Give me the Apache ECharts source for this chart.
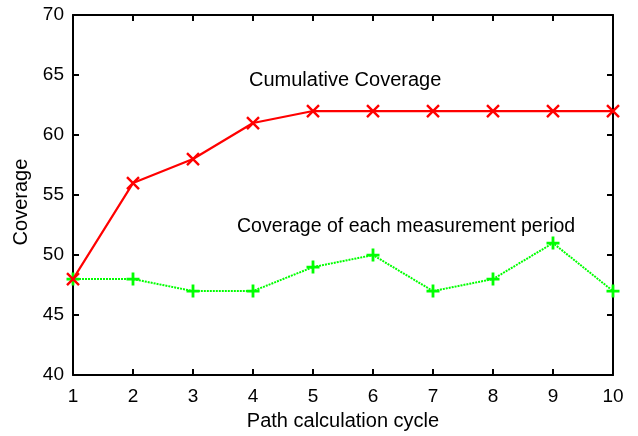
<!DOCTYPE html>
<html><head><meta charset="utf-8">
<script src="https://cdn.jsdelivr.net/npm/echarts@6/dist/echarts.min.js"></script>
<style>html,body{margin:0;padding:0;background:#fff}#c{width:638px;height:436px}</style>
</head><body><div id="c"></div>
<script>
const cycles = [1,2,3,4,5,6,7,8,9,10];
const cumulative = [48,56,58,61,62,62,62,62,62,62];
const perPeriod = [48,48,47,47,49,50,47,48,51,47];
const yTicks = [40,45,50,55,60,65,70];
const labelCum = 'Cumulative Coverage';
const labelPer = 'Coverage of each measurement period';

const chart = echarts.init(document.getElementById('c'), null, {renderer:'canvas'});
const font = 'Liberation Sans, Arial, sans-serif';
const axisCommon = {
  axisLine:{show:true, onZero:false, lineStyle:{color:'#000', width:2}},
  axisTick:{show:true, inside:true, length:6, lineStyle:{color:'#000', width:2}},
  splitLine:{show:false}
};
chart.setOption({
  animation:false,
  grid:{left:73, right:25, top:15, bottom:60},
  xAxis:[
    Object.assign({type:'value', min:1, max:10, interval:1, position:'bottom',
      name:'Path calculation cycle', nameLocation:'middle', nameGap:32,
      nameTextStyle:{fontFamily:font, fontSize:20, color:'#000'},
      axisLabel:{fontFamily:font, fontSize:19, color:'#000', margin:12}}, axisCommon),
    Object.assign({type:'value', min:1, max:10, interval:1, position:'top',
      axisLabel:{show:false}}, axisCommon)
  ],
  yAxis:[
    Object.assign({type:'value', min:40, max:70, interval:5, position:'left',
      name:'Coverage', nameLocation:'middle', nameGap:38, nameRotate:90,
      nameTextStyle:{fontFamily:font, fontSize:20, color:'#000', padding:[0,14,0,0]},
      axisLabel:{fontFamily:font, fontSize:19, color:'#000', margin:9}}, axisCommon),
    Object.assign({type:'value', min:40, max:70, interval:5, position:'right',
      axisLabel:{show:false}}, axisCommon)
  ],
  series:[
    {type:'line', name:labelCum, data:cycles.map((c,i)=>[c,cumulative[i]]),
      lineStyle:{color:'#ff0000', width:2.2},
      symbol:'path://M0,0L10,10M10,0L0,10', symbolSize:12,
      itemStyle:{color:'#ff0000', borderColor:'#ff0000', borderWidth:2.4},
      clip:false, z:3},
    {type:'line', name:labelPer, data:cycles.map((c,i)=>[c,perPeriod[i]]),
      lineStyle:{color:'#00ff00', width:2, type:[2,1]},
      symbol:'path://M5,0L5,10M0,5L10,5', symbolSize:13,
      itemStyle:{color:'#00ff00', borderColor:'#00ff00', borderWidth:2.8},
      clip:false, z:2}
  ],
  graphic:[
    {type:'text', left:249, top:70, style:{text:labelCum, fontFamily:font, fontSize:20, fill:'#000'}},
    {type:'text', left:237, top:217, style:{text:labelPer, fontFamily:font, fontSize:19.5, fill:'#000'}}
  ]
});
</script></body></html>
